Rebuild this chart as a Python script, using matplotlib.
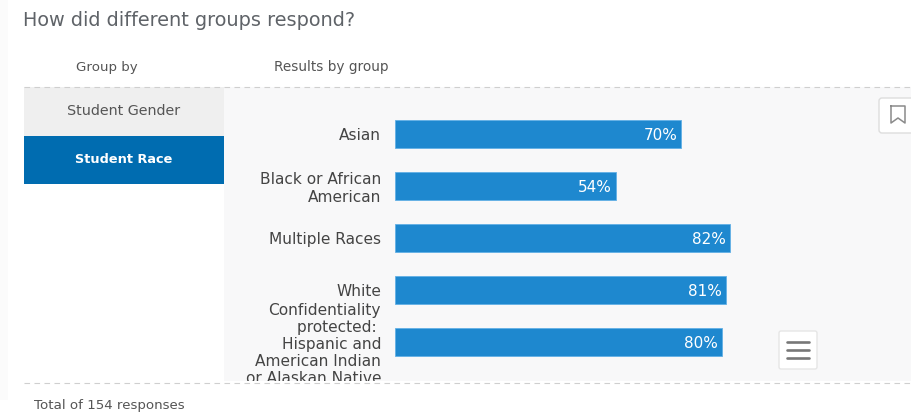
import matplotlib.pyplot as plt
from matplotlib.patches import FancyBboxPatch, Rectangle

W = 912
H = 412

groups = ['Asian', 'Black or African\nAmerican', 'Multiple Races', 'White',
          'Confidentiality\nprotected: \nHispanic and\nAmerican Indian\nor Alaskan Native']
percent = [70, 54, 82, 81, 80]

title = 'How did different groups respond?'
left_header = 'Group by'
right_header = 'Results by group'
menu_items = ['Student Gender', 'Student Race']
footer = 'Total of 154 responses'

plt.rcParams['font.family'] = ['DejaVu Sans']

fig = plt.figure(figsize=(W / 100, H / 100), dpi=100, facecolor='white')

# page furniture, in pixel coordinates
bg = fig.add_axes([0, 0, 1, 1])
bg.set_xlim(0, W)
bg.set_ylim(H, 0)
bg.axis('off')

bg.add_patch(Rectangle((0, 0), 8, 400, fc='#fbfbfb', ec='none'))
bg.add_patch(Rectangle((224, 87), W - 224, 294, fc='#f8f8f9', ec='none'))
bg.add_patch(Rectangle((24, 87), 200, 48.5, fc='#efefef', ec='none'))
bg.add_patch(Rectangle((24, 135.5), 200, 48.5, fc='#006cb0', ec='none'))
bg.plot([24, W], [87, 87], color='#cfcfcf', lw=0.8, ls=(0, (5, 4)))
bg.plot([24, W], [383, 383], color='#cfcfcf', lw=0.8, ls=(0, (5, 4)))

bg.text(23, 20, title, fontsize=13.85, color='#5f6368', va='center', ha='left')
bg.text(107, 67, left_header, fontsize=9.6, color='#555555', va='center', ha='center')
bg.text(331, 67, right_header, fontsize=9.8, color='#555555', va='center', ha='center')
bg.text(124, 111, menu_items[0], fontsize=10.3, color='#555555', va='center', ha='center')
bg.text(124, 159, menu_items[1], fontsize=9.3, color='white', va='center', ha='center',
        fontweight='bold')
bg.text(34, 405, footer, fontsize=9.6, color='#555555', va='center', ha='left')

# bookmark button
bg.add_patch(FancyBboxPatch((879, 98), 42, 35, boxstyle='round,pad=0,rounding_size=3',
                            fc='white', ec='#dddddd', lw=1))
bg.plot([891, 891, 898, 905, 905, 891], [106, 123, 118, 123, 106, 106], color='#8a8a8a', lw=1.1)

# menu button
bg.add_patch(FancyBboxPatch((779, 331), 38, 38, boxstyle='round,pad=0,rounding_size=2',
                            fc='white', ec='#e6e6e6', lw=1))
for y in [342, 350, 358]:
    bg.plot([787, 809], [y, y], color='#777777', lw=1.9, solid_capstyle='round')

# the chart
ax = fig.add_axes([395 / W, 1 - 381 / H, (W - 395) / W, 294 / H])
ax.patch.set_alpha(0)
ax.set_xlim(0, (W - 395) / 4.09)
y_pos = list(range(len(groups)))
ax.set_ylim(4 + 39 / 52, -47 / 52)
ax.barh(y_pos, percent, height=28.5 / 52, color='#1e88cf', edgecolor='#62b0e6', linewidth=0.6)

for i, v in enumerate(percent):
    ax.annotate(f'{v}%', (v, i), xytext=(-3, 0), textcoords='offset points',
                ha='right', va='center_baseline', color='white', fontsize=11)

ax.set_yticks(y_pos)
ax.set_yticklabels(groups, fontsize=11.1, color='#444444', linespacing=1.17, ha='right',
                   multialignment='right')
ax.tick_params(axis='y', length=0, pad=10)
ax.xaxis.set_visible(False)
for s in ax.spines.values():
    s.set_visible(False)

# the long label is cut off by the panel
clip = Rectangle((0, 0), W, 381, transform=bg.transData)
for label in ax.get_yticklabels():
    label.set_clip_path(clip)
    label.set_clip_on(True)

fig.savefig('out.png', dpi=100)
